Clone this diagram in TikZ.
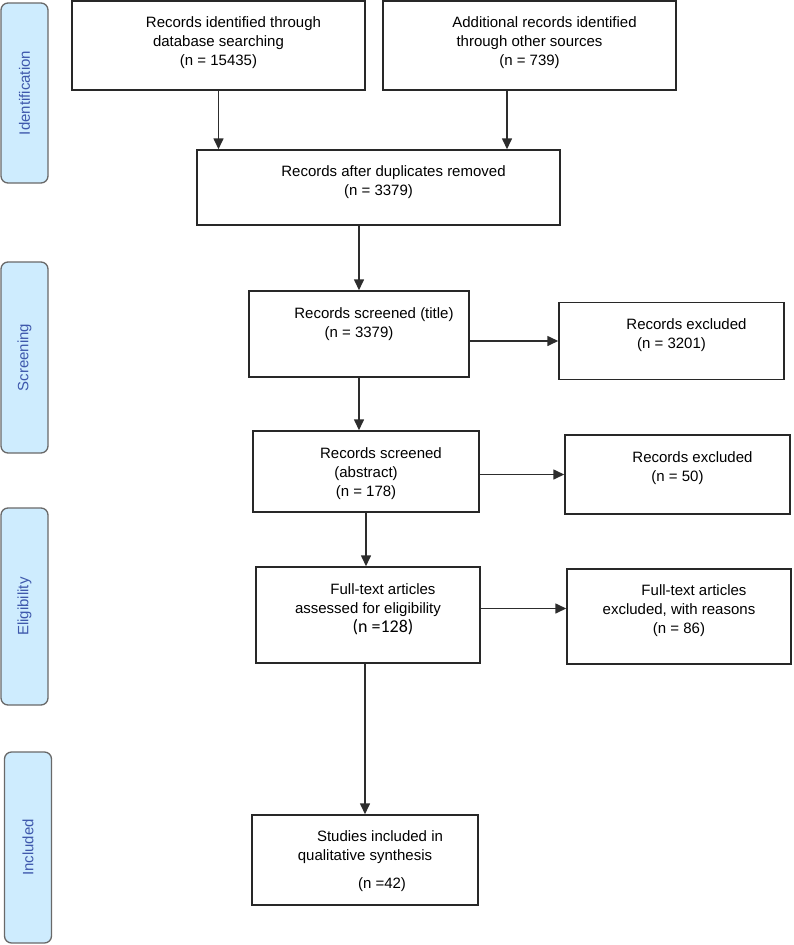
\documentclass[tikz,border=0pt]{standalone}
\usepackage{fontspec}
\setmainfont{Liberation Sans}
\newfontfamily\calfont{Carlito}
\usetikzlibrary{arrows.meta,positioning}

\definecolor{barfill}{RGB}{206,236,254}
\definecolor{barline}{RGB}{105,105,105}
\definecolor{bartext}{RGB}{62,88,172}
\definecolor{boxline}{RGB}{40,40,40}
\definecolor{arrline}{RGB}{45,45,45}

\newcommand{\firstln}{\hspace*{30pt}}

\begin{document}
\begin{tikzpicture}[x=1pt,y=-1pt,
  box/.style={draw=boxline, line width=1.5pt, inner sep=0pt},
  txt/.style={align=center, inner sep=0pt, font=\fontsize{15}{19}\selectfont},
  phase/.style={draw=barline, fill=barfill, line width=1.3pt, rounded corners=7pt,
    rotate=90, minimum height=47pt, inner sep=0pt, text=bartext,
    font=\fontsize{15}{18}\selectfont},
  arr/.style={draw=arrline, line width=1.6pt, -{Triangle[length=11pt,width=10pt]}}]

\useasboundingbox (0,0) rectangle (793,945);

% phases
\node[phase, minimum width=180pt] (pid) at (24.5,93) {Identification};
\node[phase, minimum width=191pt] (psc) at (24.5,357.5) {Screening};
\node[phase, minimum width=197pt] (pel) at (24.5,606.5) {Eligibility};
\node[phase, minimum width=191pt] (pin) at (28,847.5) {Included};

\node[box, minimum width=293pt, minimum height=89pt] (b1) at (218.5,45.5) {};
\node[txt, below=16pt of b1.north] (t1) {\firstln Records identified through\\database searching\\(n = 15435)};
\node[box, minimum width=293pt, minimum height=89pt] (b2) at (529.5,45.5) {};
\node[txt, below=16pt of b2.north] (t2) {\firstln Additional records identified\\through other sources\\(n = 739)};
\node[box, minimum width=363pt, minimum height=75pt] (b3) at (378.5,187.5) {};
\node[txt, below=16pt of b3.north] (t3) {\firstln Records after duplicates removed\\(n = 3379)};

\node[box, minimum width=220pt, minimum height=86pt] (b4) at (359,334) {};
\node[txt, below=17pt of b4.north] (t4) {\firstln Records screened (title)\\(n = 3379)};
\node[box, minimum width=225pt, minimum height=77pt] (b5) at (671.5,341) {};
\node[txt, below=17pt of b5.north] (t5) {\firstln Records excluded\\(n = 3201)};
\node[box, minimum width=226pt, minimum height=81pt] (b6) at (366,471.5) {};
\node[txt, below=17pt of b6.north] (t6) {\firstln Records screened\\(abstract)\\(n = 178)};
\node[box, minimum width=225pt, minimum height=79pt] (b7) at (677.5,474.5) {};
\node[txt, below=17pt of b7.north] (t7) {\firstln Records excluded\\(n = 50)};

\node[box, minimum width=224pt, minimum height=96pt] (b8) at (368,615) {};
\node[txt, below=17pt of b8.north] (t8) {\firstln Full-text articles\\assessed for eligibility\\\firstln{\calfont\fontsize{18}{19}\selectfont(n =128)}};
\node[box, minimum width=224pt, minimum height=95pt] (b9) at (679,616.5) {};
\node[txt, below=16pt of b9.north] (t9) {\firstln Full-text articles\\excluded, with reasons\\(n = 86)};

\node[box, minimum width=226pt, minimum height=90pt] (b10) at (365,860) {};
\node[txt, below=16pt of b10.north] (t10) {\firstln Studies included in\\qualitative synthesis\\[9pt]\hspace*{34pt}(n =42)};

\coordinate (s2) at ([xshift=-22.5pt]b2.south);
\coordinate (e9) at ([yshift=8pt]b9.west);

\draw[arr] (b1.south) -- (b1.south |- b3.north);
\draw[arr] (s2) -- (s2 |- b3.north);
\draw[arr] (b3.south -| b4.north) -- (b4.north);
\draw[arr] (b4.east |- b5.west) -- (b5.west);
\draw[arr] (b4.south) -- (b4.south |- b6.north);
\draw[arr] (b6.east |- b7.west) -- (b7.west);
\draw[arr] (b6.south) -- (b6.south |- b8.north);
\draw[arr] (b8.east |- e9) -- (e9);
\draw[arr] (b8.south -| b10.north) -- (b10.north);

\end{tikzpicture}
\end{document}
